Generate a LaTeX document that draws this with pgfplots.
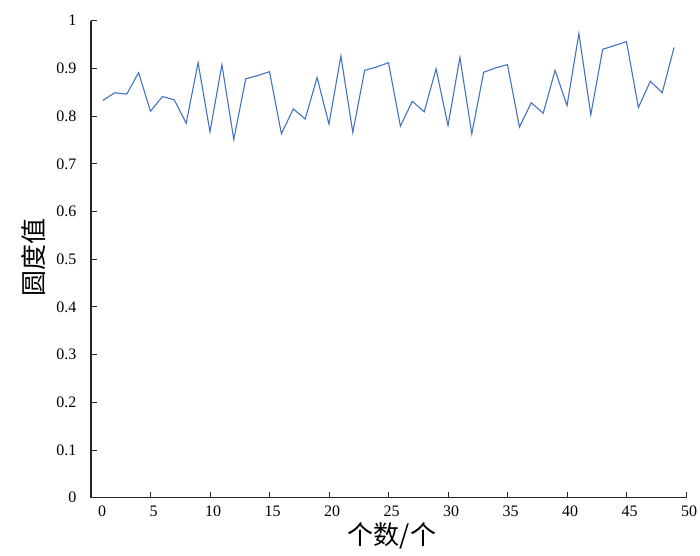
\documentclass[border=0pt]{standalone}
\usepackage{pgfplots}
\pgfplotsset{compat=1.18}
\usepackage{fontspec}
\setmainfont{Liberation Serif}
\newfontfamily\cjk{Noto Sans CJK SC}
\definecolor{serie}{HTML}{4472C4}
\begin{document}
\begin{tikzpicture}
\begin{axis}[
  scale only axis, width=595pt, height=477pt,
  xmin=0, xmax=50, ymin=0, ymax=1,
  axis x line*=bottom, axis y line*=left,
  xtick={0,5,10,15,20,25,30,35,40,45,50},
  xticklabels={\hspace*{16pt}0,5,10,15,20,25,30,35,40,45,50},
  ytick={0,0.1,0.2,0.3,0.4,0.5,0.6,0.7,0.8,0.9,1},
  tick align=inside,
  major tick length=6pt,
  tick style={black!85, line width=1pt},
  axis line style={black!85, line width=1.2pt},
  /pgf/number format/assume math mode=true,
  ticklabel style={font=\fontsize{16}{19}\selectfont},
  yticklabel style={/pgf/number format/fixed, /pgf/number format/precision=1, xshift=-11pt},
  xticklabel style={xshift=3pt, yshift=-5pt},
  xlabel={\cjk 个数/个}, ylabel={\cjk 圆度值},
  label style={font=\fontsize{26}{30}\selectfont},
  xlabel style={at={(axis description cs:0.506,-0.080)}, anchor=center},
  ylabel style={at={(axis description cs:-0.0963,0.503)}, anchor=center},
  clip=false,
]
\addplot[serie, line width=1.1pt] coordinates {
(1,0.833) (2,0.849) (3,0.846) (4,0.891) (5,0.810) (6,0.841) (7,0.834) (8,0.785)
(9,0.912) (10,0.767) (11,0.908) (12,0.751) (13,0.878) (14,0.885) (15,0.893)
(16,0.763) (17,0.815) (18,0.794) (19,0.881) (20,0.783) (21,0.926) (22,0.766)
(23,0.896) (24,0.903) (25,0.912) (26,0.779) (27,0.831) (28,0.809) (29,0.899)
(30,0.780) (31,0.923) (32,0.763) (33,0.892) (34,0.901) (35,0.908) (36,0.777)
(37,0.828) (38,0.806) (39,0.896) (40,0.822) (41,0.973) (42,0.803) (43,0.940)
(44,0.948) (45,0.956) (46,0.818) (47,0.873) (48,0.849) (49,0.944)
};
\end{axis}
\pgfresetboundingbox
\path ([xshift=-91pt,yshift=-57.3pt]current axis.south west) rectangle ([xshift=14pt,yshift=20.7pt]current axis.north east);
\end{tikzpicture}
\end{document}
